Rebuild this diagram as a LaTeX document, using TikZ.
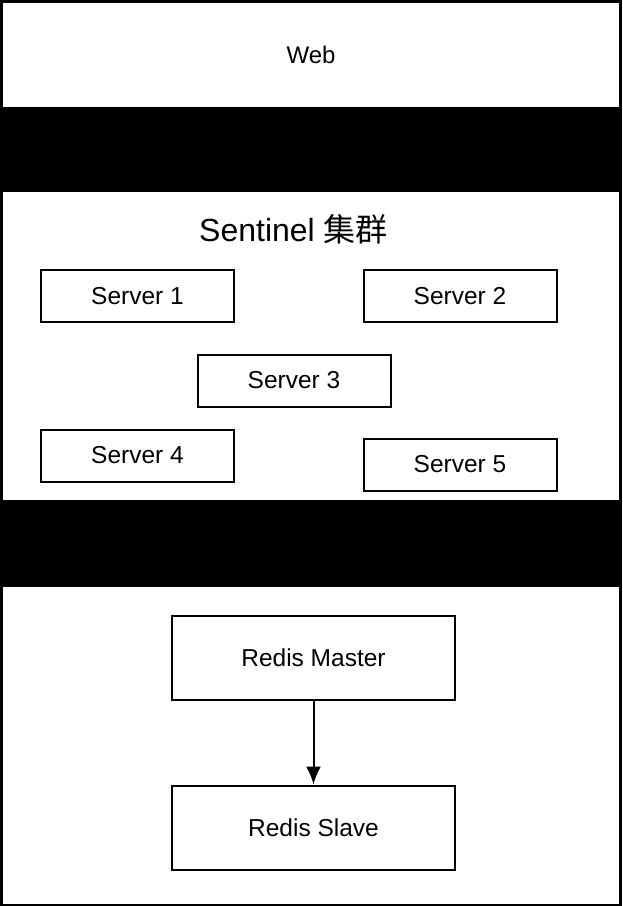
\documentclass[tikz,border=0pt]{standalone}
\usepackage{fontspec}
\setmainfont{Liberation Sans}
\newfontfamily\cjk{Noto Sans CJK SC}
\usetikzlibrary{arrows.meta}

\begin{document}
\begin{tikzpicture}[x=1pt,y=-1pt,
	panel/.style={fill=white,inner sep=0pt,minimum width=616pt,font=\fontsize{24}{28}\selectfont},
	serverbox/.style={draw,line width=2pt,minimum width=193pt,minimum height=52pt,font=\fontsize{24.5}{28}\selectfont},
	redisbox/.style={draw,line width=2pt,minimum width=283pt,minimum height=84pt,font=\fontsize{24.5}{28}\selectfont}]
	\fill[black] (0,0) rectangle (622,906);

	\node[panel,minimum height=104pt] (web) at (311,55) {Web};
	\node[panel,minimum height=308pt] (sentinel) at (311,346) {};
	\node[panel,minimum height=317pt] (redis) at (311,745.5) {};

	\node[font=\fontsize{32}{36}\selectfont] (title) at (293.5,229) {Sentinel {\cjk 集群}};
	\node[serverbox] (s1) at (137.5,296) {Server 1};
	\node[serverbox] (s2) at (460,296) {Server 2};
	\node[serverbox] (s3) at (294,380.5) {Server 3};
	\node[serverbox] (s4) at (137.5,455.5) {Server 4};
	\node[serverbox] (s5) at (460,464.5) {Server 5};

	\node[redisbox] (master) at (313.5,658) {Redis Master};
	\node[redisbox] (slave) at (313.5,827.5) {Redis Slave};
	\draw[-{Latex[length=18pt,width=15pt]},line width=2pt] (master) -- (slave);
\end{tikzpicture}
\end{document}
